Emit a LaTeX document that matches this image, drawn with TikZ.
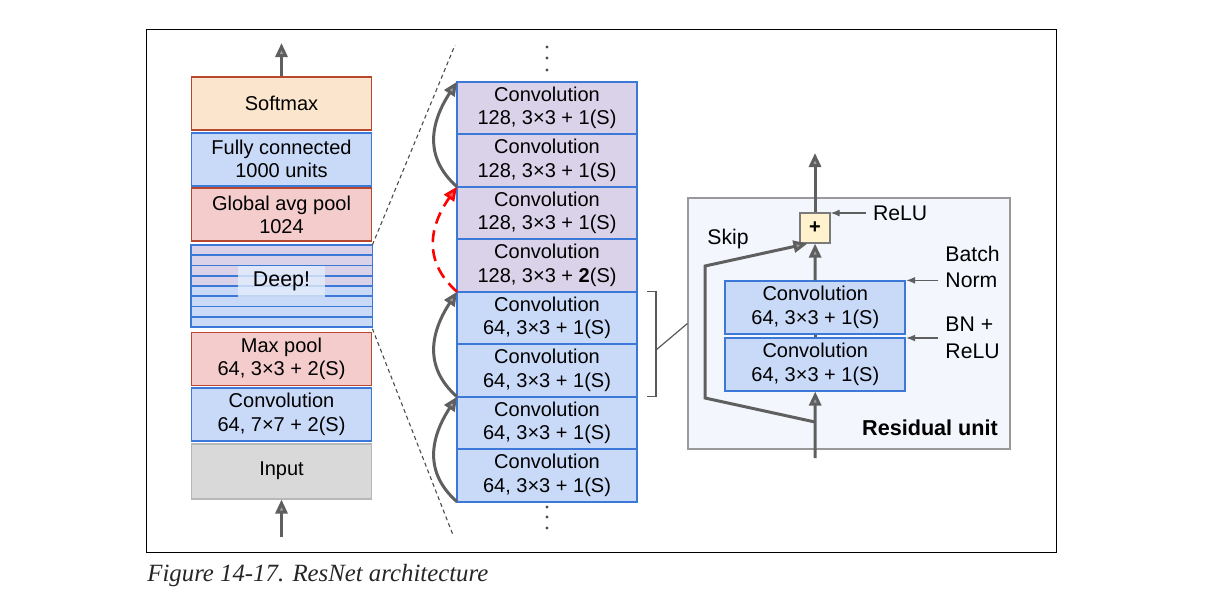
\documentclass[tikz,border=0pt]{standalone}
\usepackage{fontspec}
\setmainfont{Liberation Sans}
\newfontfamily\capfont{Liberation Serif}
\usepackage{tikz}
\usetikzlibrary{arrows.meta}
\usetikzlibrary{calc}
\usetikzlibrary{positioning}
\definecolor{bluefill}{HTML}{C9DAF8}
\definecolor{blueline}{HTML}{3C78D8}
\definecolor{purplefill}{HTML}{D9D2E9}
\definecolor{redfill}{HTML}{F4CCCC}
\definecolor{redline}{HTML}{B8472F}
\definecolor{orangefill}{HTML}{FCE5CD}
\definecolor{grayfill}{HTML}{D9D9D9}
\definecolor{grayline}{HTML}{B7B7B7}
\definecolor{flowgray}{HTML}{5F5F5F}
\definecolor{panelfill}{HTML}{F3F7FD}
\definecolor{panelline}{HTML}{999999}
\definecolor{plusfill}{HTML}{FFF2CC}
\definecolor{deepfill}{HTML}{E2EDFC}

\begin{document}
\begin{tikzpicture}
      [x=0.5pt,y=-0.5pt,font=\fontsize{10}{11.7}\selectfont,
       layer/.style={rectangle,minimum width=90pt,minimum height=26.5pt,inner sep=0pt,align=center,line width=0.9pt},
       bluebox/.style={layer,fill=bluefill,draw=blueline},
       redbox/.style={layer,fill=redfill,draw=redline},
       softbox/.style={layer,fill=orangefill,draw=redline},
       inbox/.style={layer,fill=grayfill,draw=grayline,minimum height=27.5pt},
       deepbox/.style={layer,minimum height=41pt},
       convp/.style={layer,outer sep=0pt,minimum height=26.25pt,fill=purplefill,draw=blueline},
       convb/.style={convp,fill=bluefill},
       panel/.style={rectangle,fill=panelfill,draw=panelline,line width=0.6pt,minimum width=161pt,minimum height=125.5pt},
       plusbox/.style={rectangle,fill=plusfill,draw=panelline!80!black,line width=0.6pt,minimum size=15pt,inner sep=0pt},
       lbl/.style={font=\fontsize{10.6}{13.3}\selectfont,align=left},
       flow/.style={draw=flowgray,line width=1.5pt,-{Triangle[length=7pt,width=6pt,fill=flowgray!60!white]}},
       flowline/.style={draw=flowgray,line width=1.5pt},
       skipred/.style={draw=red,line width=1.3pt,dash pattern=on 6pt off 3.5pt,-{Triangle[length=7pt,width=6pt,fill=red!65!white]}},
       thinarrow/.style={draw=flowgray,line width=0.6pt,-{Latex[length=4.5pt,width=3.5pt]}},
       zoomline/.style={draw=black!70,line width=0.55pt,dash pattern=on 2pt off 1.6pt},
       bracket/.style={draw=black!65,line width=0.6pt}]
      \useasboundingbox (0,0) rectangle (1219,601);
      % frame
      \draw[line width=0.5pt] (146,29) rectangle (1056,552);
      % left column
      \node[softbox] (softmax) at (281.5,103.5) {Softmax};
      \node[bluebox] (fc) [below=0.4pt of softmax] {Fully connected\\1000 units};
      \node[redbox] (gap) [below=0.4pt of fc] {Global avg pool\\1024};
      \node[deepbox] (deep) [below=1.4pt of gap] {};
      \node[redbox] (maxpool) [below=1.4pt of deep] {Max pool\\64, 3×3 + 2(S)};
      \node[bluebox] (conv1) [below=0.4pt of maxpool] {Convolution\\64, 7×7 + 2(S)};
      \node[inbox] (input) [below=0.4pt of conv1] {Input};
      % stripes of the deep block
      \foreach \i/\col in {0/purplefill,1/purplefill,2/purplefill,3/purplefill,4/bluefill,5/bluefill,6/bluefill,7/bluefill}
        \filldraw[fill=\col,draw=blueline,line width=0.9pt] ($(deep.north west)+(0,\i*10.25)$) rectangle ($(deep.north east)+(0,\i*10.25+10.25)$);
      \node[fill=deepfill,fill opacity=0.8,text opacity=1,minimum width=43.5pt,minimum height=15.5pt,inner sep=0pt,font=\fontsize{10.7}{12}\selectfont] (deeplabel) at ([yshift=2.75pt]deep.center) {Deep!};
      \coordinate (lefttop) at (281.5,43);
      \coordinate (leftbot) at (281.5,537);
      \draw[flow] (softmax) -- (lefttop);
      \draw[flow] (leftbot) -- (input);
      % middle column
      \node[convp] (c1) at (547,108) {Convolution\\128, 3×3 + 1(S)};
      \node[convp] (c2) [below=0pt of c1] {Convolution\\128, 3×3 + 1(S)};
      \node[convp] (c3) [below=0pt of c2] {Convolution\\128, 3×3 + 1(S)};
      \node[convp] (c4) [below=0pt of c3] {Convolution\\128, 3×3 + \textbf{2}(S)};
      \node[convb] (c5) [below=0pt of c4] {Convolution\\64, 3×3 + 1(S)};
      \node[convb] (c6) [below=0pt of c5] {Convolution\\64, 3×3 + 1(S)};
      \node[convb] (c7) [below=0pt of c6] {Convolution\\64, 3×3 + 1(S)};
      \node[convb] (c8) [below=0pt of c7] {Convolution\\64, 3×3 + 1(S)};
      \foreach \y in {47,58,70,507,517,528}
        \fill[black!70] (547,\y) circle (0.8pt);
      % zoom lines
      \coordinate (ztop) at (455,45);
      \coordinate (zbot) at (453,535);
      \draw[zoomline] (deep.north east) -- (ztop);
      \draw[zoomline] (deep.south east) -- (zbot);
      % skip connections
      \draw[flow] (c8.south west) .. controls +(-34,-30) and +(-26,40) .. (c6.south west);
      \draw[flow] (c6.south west) .. controls +(-34,-30) and +(-26,40) .. (c5.north west);
      \draw[skipred] (c4.south west) .. controls +(-34,-30) and +(-28,40) .. (c2.south west);
      \draw[flow] (c2.south west) .. controls +(-34,-30) and +(-26,40) .. (c1.north west);
      % bracket
      \draw[bracket] ([xshift=5pt]c5.north east) -- ++(4.5pt,0) |- ([xshift=5pt]c6.south east);
      \coordinate (brk) at (656,350);
      % residual unit
      \node[panel] (resunit) at (849,323.5) {};
      \draw[bracket] (brk) -- (resunit.west);
      \node[bluebox,minimum height=26.25pt] (rconv2) at (815.3,307.5) {Convolution\\64, 3×3 + 1(S)};
      \node[bluebox,minimum height=26.25pt] (rconv1) [below=1.3pt of rconv2] {Convolution\\64, 3×3 + 1(S)};
      \node[plusbox] (plus) at (815,228) {\textbf{+}};
      \node[lbl,font=\fontsize{10.8}{13}\selectfont\bfseries] (reslabel) at (930,428) {Residual unit};
      \node[lbl] (skiplbl) at (728,239) {Skip};
      \node[lbl,anchor=west] (relu) at (866,213) {ReLU};
      \node[lbl,anchor=west] (bn) at (938.4,267) {Batch\\Norm};
      \node[lbl,anchor=west] (bnrelu) at (938.4,338) {BN +\\ReLU};
      \coordinate (outtop) at (815,153);
      \coordinate (inbot) at (815,458);
      \coordinate (skipsrc) at (815,422);
      \coordinate (skipa) at (705,398);
      \coordinate (skipb) at (705,266);
      \draw[flow] (plus) -- (outtop);
      \draw[flow] (rconv2) -- (plus);
      \draw[flowline] (rconv1) -- (rconv2);
      \draw[flow] (inbot) -- (rconv1);
      \draw[flow] (skipsrc) -- (skipa) -- (skipb) -- ([xshift=4pt]plus.south west);
      \draw[thinarrow] (relu.west) -- (plus.east |- relu.west);
      \draw[thinarrow] (rconv2.north east -| bn.west) -- (rconv2.north east);
      \draw[thinarrow] (bnrelu.west) -- (bnrelu.west -| rconv1.east);
      % caption
      \node[anchor=west,inner sep=0pt,font=\capfont\itshape\fontsize{12.4}{14}\selectfont,text=black!85] (caption) at (147,576) {Figure 14-17. ResNet architecture};
    \end{tikzpicture}
\end{document}
